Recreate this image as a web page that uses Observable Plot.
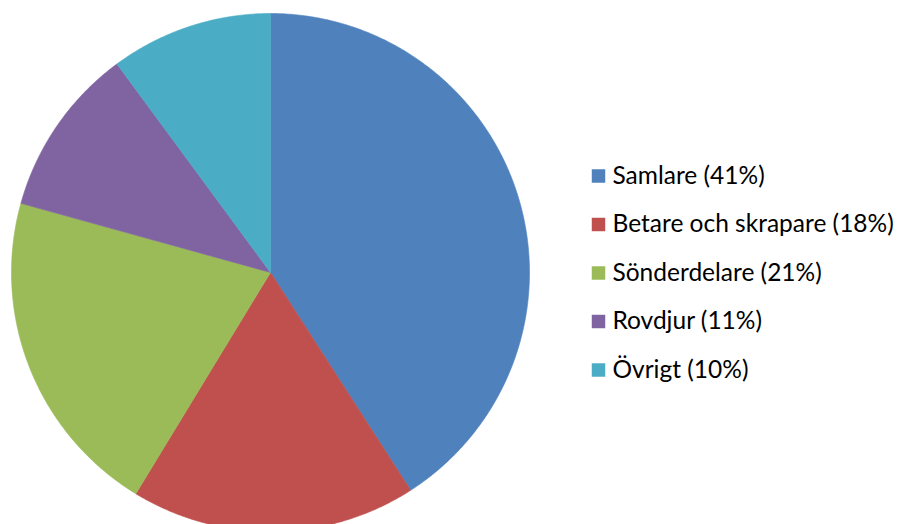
<!DOCTYPE html>
<html>
<head>
<meta charset="utf-8">
<script src="https://cdn.jsdelivr.net/npm/d3@7"></script>
<script src="https://cdn.jsdelivr.net/npm/@observablehq/plot@0.6"></script>
<style>
  html, body { margin: 0; padding: 0; background: #fff; }
</style>
</head>
<body>
<div id="chart"></div>
<script>
const categories = ["Samlare", "Betare och skrapare", "Sönderdelare", "Rovdjur", "Övrigt"];
const values = [40.9, 17.8, 20.6, 10.6, 10.1];
const labels = ["Samlare (41%)", "Betare och skrapare (18%)", "Sönderdelare (21%)", "Rovdjur (11%)", "Övrigt (10%)"];
const colors = ["#4F81BD", "#C0504D", "#9BBB59", "#8064A2", "#4BACC6"];

const W = 900, H = 524;
const cx = 270, cy = 272, R = 259;

const arcs = d3.pie().sort(null).value(d => d.value)(categories.map((name, i) => ({name, value: values[i]})));
const slicePts = [];
for (const a of arcs) {
  const name = a.data.name;
  slicePts.push({name, px: cx, py: cy});
  const n = Math.max(2, Math.ceil((a.endAngle - a.startAngle) / (Math.PI / 360)));
  for (let k = 0; k <= n; k++) {
    const t = a.startAngle + (a.endAngle - a.startAngle) * k / n;
    slicePts.push({name, px: cx + R * Math.sin(t), py: cy - R * Math.cos(t)});
  }
  slicePts.push({name, px: cx, py: cy});
}

const legend = categories.map((name, i) => ({name, label: labels[i], ly: 175.5 + i * 48.5}));

const chart = Plot.plot({
  width: W,
  height: H,
  margin: 0,
  x: {domain: [0, W], range: [0, W], axis: null},
  y: {domain: [0, H], range: [0, H], axis: null},
  color: {domain: categories, range: colors},
  style: {background: "#fff"},
  marks: [
    Plot.line(slicePts, {x: "px", y: "py", z: "name", fill: "name", stroke: "name", strokeWidth: 0.6, curve: "linear"}),
    Plot.dot(legend, {x: () => 598, y: "ly", symbol: "square", r: 7.6, fill: "name", stroke: null}),
    Plot.text(legend, {x: () => 612, y: "ly", text: "label", textAnchor: "start", fontSize: 24.5, fontFamily: "Lato", fill: "#000"})
  ]
});
document.getElementById("chart").appendChild(chart);
</script>
</body>
</html>
